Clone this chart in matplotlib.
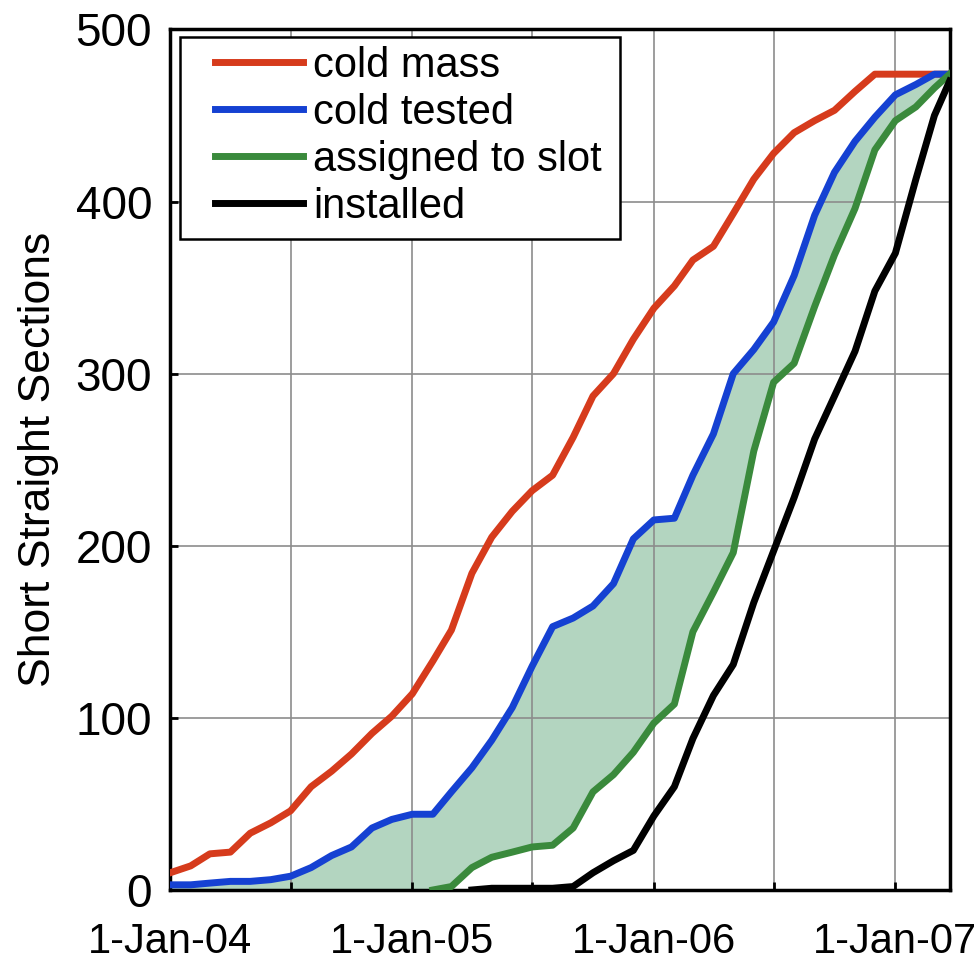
import numpy as np
import pandas as pd
import matplotlib
matplotlib.use('Agg')
import matplotlib.pyplot as plt
import matplotlib.dates as mdates
from matplotlib.patches import Rectangle

plt.rcParams['font.family'] = ['Liberation Sans', 'DejaVu Sans']

# monthly readings, Jan 2004 .. Mar 2007, plus the last point at the right edge
dates = list(pd.date_range('2004-01-01', '2007-03-01', freq='MS')) + [pd.Timestamp('2007-03-24')]

cold_mass = [10, 14, 21, 22, 33, 39, 46, 60, 69, 79, 91, 101, 114, 133, 151, 184, 205, 220,
             232, 241, 263, 287, 300, 320, 338, 351, 366, 374, 393, 413, 428, 440, 447, 453,
             464, 474, 474, 474, 474, 474]
cold_tested = [3, 3, 4, 5, 5, 6, 8, 13, 20, 25, 36, 41, 44, 44, 57, 71, 87, 106,
               130, 153, 158, 165, 178, 204, 215, 216, 241, 265, 300, 314, 330, 357, 392, 417,
               435, 449, 462, 468, 474, 474]
assigned = [np.nan] * 13 + [0, 2, 13, 19, 22, 25, 26, 36, 57, 67, 80, 97, 108, 150, 173,
                            196, 255, 295, 306, 339, 369, 396, 430, 447, 455, 466, 474]
installed = [np.nan] * 15 + [0, 1, 1, 1, 1, 2, 10, 17, 23, 43, 60, 88, 113, 131, 167,
                             197, 228, 262, 287, 313, 348, 370, 413, 450, 470]

labels = ['cold mass', 'cold tested', 'assigned to slot', 'installed']
colors = ['#d63b1c', '#1541d2', '#3a8a3c', '#000000']

fig = plt.figure(figsize=(9.78, 9.68), dpi=100)
ax = fig.add_axes([0.174, 0.0806, 0.797, 0.889])

assigned_fill = np.nan_to_num(np.array(assigned, dtype=float))
ax.fill_between(dates, cold_tested, assigned_fill, color='#b3d5c0', linewidth=0, zorder=1)

series = [cold_mass, cold_tested, assigned, installed]
handles = []
for s, lab, c in zip(series, labels, colors):
    h, = ax.plot(dates, s, color=c, lw=5, label=lab, solid_joinstyle='round', zorder=3)
    handles.append(h)

ax.set_xlim(pd.Timestamp('2004-01-01'), pd.Timestamp('2007-03-24'))
ax.set_ylim(0, 500)
ax.set_yticks(range(0, 501, 100))

ax.xaxis.set_major_locator(mdates.MonthLocator(bymonth=[1, 7]))


def fmt_date(x, pos=None):
    d = mdates.num2date(x)
    if d.month != 1:
        return ''
    return '%d-%s' % (d.day, d.strftime('%b-%y'))


ax.xaxis.set_major_formatter(plt.FuncFormatter(fmt_date))

ax.grid(True, color='#8c8c8c', lw=1.2)
ax.tick_params(axis='both', direction='in', length=6, width=2)
ax.tick_params(axis='x', pad=23, labelsize=30)
ax.tick_params(axis='y', pad=13, labelsize=33)
for sp in ax.spines.values():
    sp.set_linewidth(2.5)

ax.set_ylabel('Short Straight Sections', fontsize=32, labelpad=12)

leg = ax.legend(handles=handles, loc='upper left', bbox_to_anchor=(0.0577, 0.981),
                frameon=False, borderpad=0, borderaxespad=0, fontsize=30,
                handlelength=2.1, handletextpad=0.25, labelspacing=0.17)
leg.set_zorder(5)
ax.add_patch(Rectangle((0.0128, 0.756), 0.564, 0.235, transform=ax.transAxes,
                       facecolor='white', edgecolor='black', lw=1.8, zorder=4))

fig.savefig('out.png', dpi=100)
